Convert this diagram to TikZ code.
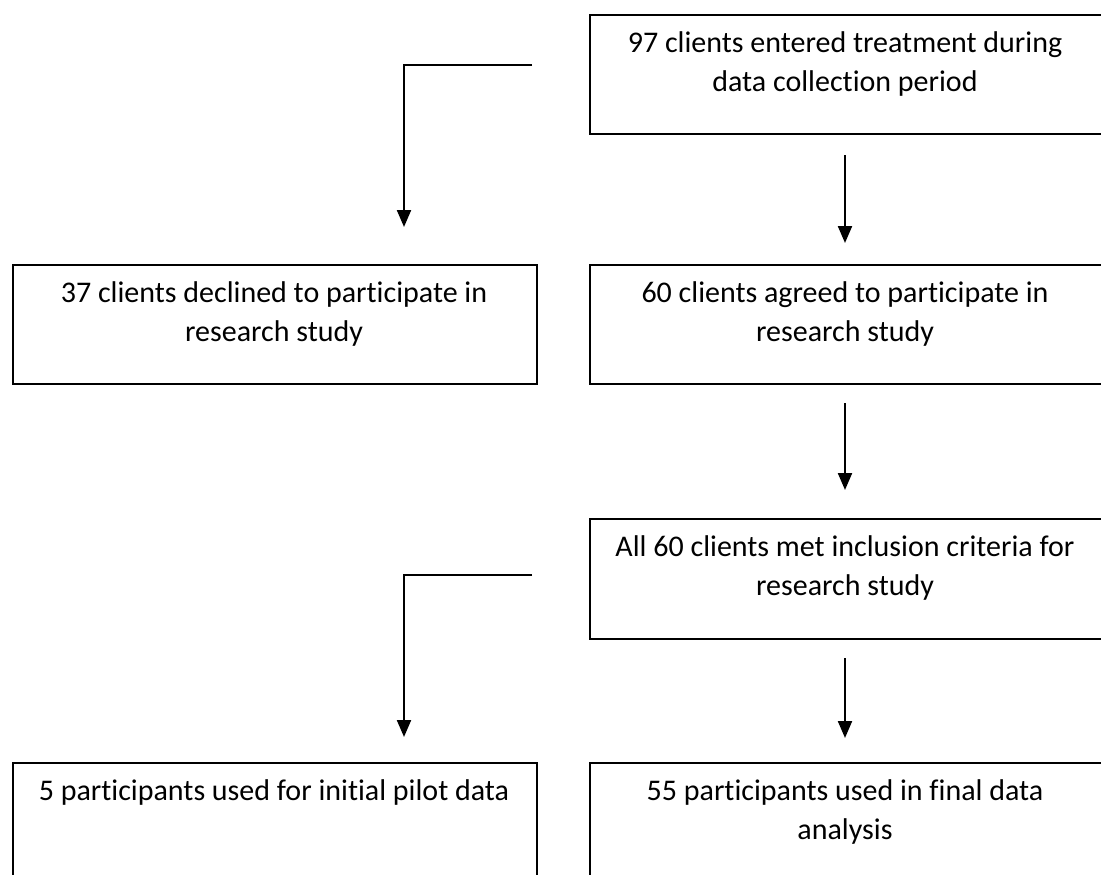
\documentclass[tikz,border=0pt]{standalone}
\usepackage{fontspec}
\setmainfont{Carlito}[Ligatures=NoCommon]
\usetikzlibrary{arrows.meta,calc}
\begin{document}
\begin{tikzpicture}[x=1pt,y=-1pt,
  box/.style={draw=black, line width=2.2pt, anchor=north west, inner sep=0pt},
  txt/.style={anchor=north, align=center, inner sep=0pt, font=\fontsize{30}{39}\selectfont},
  arr/.style={line width=2.2pt, -{Triangle[width=14pt,length=17pt]}}]
\useasboundingbox (0,0) rectangle (1101,875);
% boxes
\node[box, minimum width=522pt, minimum height=119pt] (b1) at (589,14) {};
\node[box, minimum width=524pt, minimum height=119pt] (b2) at (12,264) {};
\node[box, minimum width=522pt, minimum height=119pt] (b3) at (589,264) {};
\node[box, minimum width=522pt, minimum height=120pt] (b4) at (589,518) {};
\node[box, minimum width=524pt, minimum height=130pt] (b5) at (12,762) {};
\node[box, minimum width=522pt, minimum height=130pt] (b6) at (589,762) {};
% texts
\node[txt] (t1) at (845,31) {97 clients entered treatment during\\data collection period};
\node[txt] (t2) at (274,281) {37 clients declined to participate in\\research study};
\node[txt] (t3) at (845,281) {60 clients agreed to participate in\\research study};
\node[txt] (t4) at (845,535) {All 60 clients met inclusion criteria for\\research study};
\node[txt] (t5) at (274,779) {5 participants used for initial pilot data};
\node[txt] (t6) at (845,779) {55 participants used in final data\\analysis};
% connector ends
\coordinate (a1s) at (845,155); \coordinate (a1e) at (845,243);
\coordinate (a2s) at (845,403); \coordinate (a2e) at (845,490);
\coordinate (a3s) at (845,658); \coordinate (a3e) at (845,738);
\coordinate (e1s) at (532,65);  \coordinate (e1e) at (404,227);
\coordinate (e2s) at (532,575); \coordinate (e2e) at (404,737);
\draw[arr] (a1s) -- (a1e);
\draw[arr] (a2s) -- (a2e);
\draw[arr] (a3s) -- (a3e);
\draw[arr] (e1s) -| (e1e);
\draw[arr] (e2s) -| (e2e);
\end{tikzpicture}
\end{document}
